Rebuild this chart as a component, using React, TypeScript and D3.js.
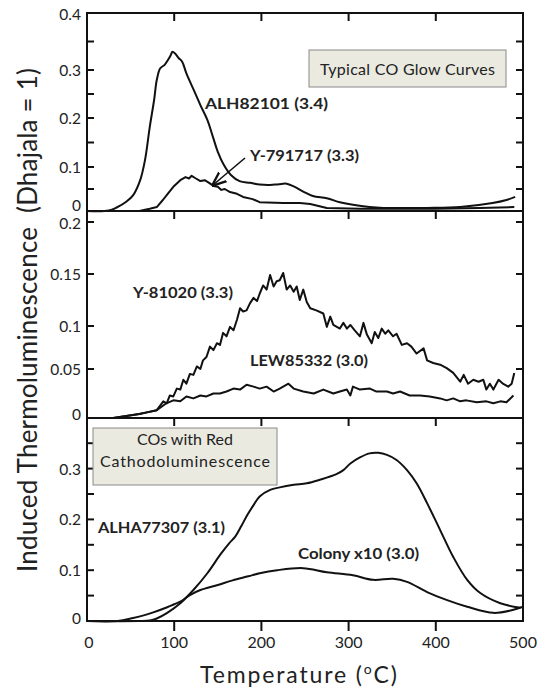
import React from "react";
import * as d3 from "d3";

type Pt = [number, number];

// ---------- data (temperature °C, induced TL relative to Dhajala) ----------
const X_TICK_VALUES = [0, 100, 200, 300, 400, 500];
const X_TICK_LABELS = ["0", "100", "200", "300", "400", "500"];

const TOP_LABEL_VALUES = [0, 0.1, 0.2, 0.3, 0.4];
const TOP_LABELS = ["0", "0.1", "0.2", "0.3", "0.4"];
const TOP_MINOR = [0.05, 0.1, 0.15, 0.2, 0.25, 0.3, 0.35];

const MID_LABEL_VALUES = [0, 0.05, 0.1, 0.15, 0.2];
const MID_LABELS = ["0", "0.05", "0.1", "0.15", "0.2"];
const MID_MINOR = [0.05, 0.1, 0.15, 0.2];

const BOT_LABEL_VALUES = [0, 0.1, 0.2, 0.3];
const BOT_LABELS = ["0", "0.1", "0.2", "0.3"];
const BOT_MINOR = [0.05, 0.1, 0.15, 0.2, 0.25, 0.3, 0.35];

const ALH82101: Pt[] = [
  [0, 0], [25, 0.001], [34, 0.008], [45, 0.021], [53, 0.036], [61, 0.07], [66.5, 0.114],
  [72, 0.182], [77, 0.238], [80, 0.279], [84, 0.303], [89, 0.309], [93, 0.318], [96, 0.326],
  [98, 0.332], [101, 0.329], [105, 0.321], [109, 0.315], [114, 0.293], [122, 0.26],
  [130, 0.227], [138, 0.196], [144.5, 0.161], [150, 0.131], [157, 0.104], [165, 0.082],
  [175, 0.068], [187, 0.064], [198, 0.06], [210, 0.059], [220, 0.061], [229, 0.062],
  [237, 0.056], [248, 0.044], [259, 0.034], [275, 0.029], [290, 0.02], [305, 0.014],
  [324, 0.009], [340, 0.007], [390, 0.007], [428, 0.009], [465, 0.018], [481, 0.025], [491, 0.032],
];

const Y791717: Pt[] = [
  [0, 0], [60, 0], [72, 0.005], [80, 0.009], [87, 0.025], [93, 0.04], [99, 0.055], [107, 0.07],
  [113, 0.077], [117, 0.074], [120, 0.08], [124, 0.075], [130, 0.068], [135, 0.07], [140, 0.064],
  [145, 0.057], [150, 0.055], [154, 0.048], [158, 0.05], [164, 0.043], [172, 0.039], [179, 0.032],
  [190, 0.027], [198, 0.02], [225, 0.018], [244, 0.018], [256, 0.016], [275, 0.007], [313, 0.005],
  [400, 0.005], [450, 0.007], [490, 0.009],
];

const Y81020: Pt[] = [
  [0, 0], [30, 0], [45, 0.002], [60, 0.004], [70, 0.006], [80, 0.008], [87.5, 0.017], [91.4, 0.015],
  [95, 0.023], [99, 0.022], [103, 0.03], [107, 0.029], [110.5, 0.039], [114, 0.035], [118, 0.045],
  [122, 0.044], [126, 0.053], [130, 0.05], [133, 0.06], [137, 0.064], [141, 0.076], [145, 0.072],
  [149, 0.08], [152.5, 0.078], [156, 0.092], [160, 0.088], [164, 0.099], [168, 0.095], [172, 0.106],
  [175.5, 0.117], [179, 0.114], [183, 0.115], [187, 0.122], [191, 0.127], [195, 0.124], [198, 0.131],
  [202, 0.139], [206, 0.135], [210, 0.149], [214, 0.138], [217.5, 0.143], [221, 0.144], [225, 0.151],
  [229, 0.135], [233, 0.139], [237, 0.133], [240.5, 0.138], [244, 0.125], [248, 0.135], [252, 0.123],
  [256, 0.117], [263, 0.115], [271, 0.112], [275, 0.099], [279, 0.109], [282.5, 0.101], [290, 0.097],
  [294, 0.103], [298, 0.097], [302, 0.101], [307, 0.095], [313, 0.088], [317, 0.103], [321, 0.09],
  [326.5, 0.08], [330, 0.093], [334, 0.086], [338, 0.097], [342, 0.091], [345.5, 0.095], [351, 0.088],
  [355, 0.091], [361, 0.078], [367, 0.08], [372, 0.076], [378, 0.068], [386, 0.074], [390, 0.06],
  [397, 0.057], [405, 0.055], [412.5, 0.051], [420, 0.046], [428, 0.037], [432, 0.044], [437, 0.035],
  [443, 0.039], [449, 0.037], [454.5, 0.039], [458, 0.029], [462, 0.035], [466, 0.029], [472, 0.039],
  [477, 0.035], [483, 0.032], [487, 0.035], [490, 0.046],
];

const LEW85332: Pt[] = [
  [0, 0], [30, 0], [45, 0.002], [60, 0.004], [70, 0.006], [80, 0.008], [91, 0.015], [99, 0.018],
  [107, 0.017], [114, 0.022], [122, 0.02], [130, 0.023], [137, 0.022], [145, 0.025], [152.5, 0.025],
  [160, 0.027], [168, 0.03], [175.5, 0.029], [183, 0.034], [191, 0.032], [198, 0.03], [206, 0.032],
  [214, 0.027], [221, 0.03], [231, 0.035], [237, 0.03], [248, 0.027], [260, 0.025], [271, 0.029],
  [282.5, 0.025], [290, 0.027], [298, 0.029], [302, 0.023], [305, 0.032], [313, 0.029], [324.5, 0.03],
  [332, 0.027], [344, 0.027], [351, 0.025], [359, 0.027], [370, 0.023], [382, 0.023], [393, 0.022],
  [405, 0.02], [412.5, 0.018], [420, 0.02], [428, 0.017], [435, 0.018], [447, 0.016], [458, 0.017],
  [466, 0.015], [474, 0.017], [481, 0.016], [489, 0.023],
];

const ALHA77307: Pt[] = [
  [0, 0], [60, 0], [72, 0.001], [80, 0.005], [92, 0.016], [107, 0.035], [122, 0.061], [138, 0.094],
  [153, 0.131], [163, 0.153], [170, 0.166], [177, 0.187], [184, 0.209], [191, 0.228], [198, 0.245],
  [210, 0.258], [221, 0.263], [237, 0.268], [252, 0.271], [267, 0.278], [286, 0.289], [294, 0.297],
  [302, 0.31], [313, 0.322], [324, 0.33], [334, 0.331], [344, 0.327], [355, 0.317], [367, 0.297],
  [378, 0.271], [390, 0.232], [405, 0.179], [420, 0.126], [436, 0.081], [451, 0.055], [474, 0.035],
  [497, 0.026],
];

const COLONY_X10: Pt[] = [
  [0, 0], [35, 0], [53, 0.006], [65, 0.011], [76, 0.017], [92, 0.027], [100, 0.033], [107, 0.038],
  [118, 0.051], [130, 0.061], [150, 0.071], [167, 0.08], [185, 0.088], [198, 0.094], [218, 0.1],
  [248, 0.104], [275, 0.096], [305, 0.09], [328, 0.081], [351, 0.083], [367, 0.077], [390, 0.057],
  [413, 0.041], [436, 0.028], [466, 0.016], [489, 0.022], [500, 0.028],
];

// ---------- layout ----------
const W = 537;
const H = 688;
const X0 = 87;
const X1 = 523;
const FONT = "Lato, 'Open Sans', sans-serif";
const INK = "#111";

const x = d3.scaleLinear().domain([0, 500]).range([X0, X1]);
const yTop = d3.scaleLinear().domain([0, 0.1, 0.2, 0.3, 0.4]).range([211, 167, 118, 70, 13]);
const yMid = d3.scaleLinear().domain([0, 0.05, 0.1, 0.15, 0.2, 0.2106]).range([418, 369, 326, 274, 222, 211]);
const yBot = d3.scaleLinear().domain([0, 0.4]).range([621, 417.8]);

type Panel = {
  y: d3.ScaleLinear<number, number>;
  top: number;
  bottom: number;
  minor: number[];
  labelValues: number[];
  labels: string[];
  zeroShift: number;
  topShift: number;
};

const PANELS: Panel[] = [
  { y: yTop, top: 13, bottom: 211, minor: TOP_MINOR, labelValues: TOP_LABEL_VALUES, labels: TOP_LABELS, zeroShift: -6, topShift: 1 },
  { y: yMid, top: 211, bottom: 418, minor: MID_MINOR, labelValues: MID_LABEL_VALUES, labels: MID_LABELS, zeroShift: -4, topShift: 1 },
  { y: yBot, top: 418, bottom: 621, minor: BOT_MINOR, labelValues: BOT_LABEL_VALUES, labels: BOT_LABELS, zeroShift: -3, topShift: 0 },
];

function pathFor(data: Pt[], y: d3.ScaleLinear<number, number>, smooth: boolean) {
  const gen = d3
    .line<Pt>()
    .x((d) => x(d[0]))
    .y((d) => y(d[1]))
    .curve(smooth ? d3.curveCatmullRom.alpha(0.5) : d3.curveLinear);
  return gen(data) ?? "";
}

const SERIES = [
  { data: ALH82101, y: yTop, smooth: true },
  { data: Y791717, y: yTop, smooth: false },
  { data: Y81020, y: yMid, smooth: false },
  { data: LEW85332, y: yMid, smooth: false },
  { data: ALHA77307, y: yBot, smooth: true },
  { data: COLONY_X10, y: yBot, smooth: true },
];

const innerX = X_TICK_VALUES.filter((v) => v > 0 && v < 500);

export default function App() {
  return (
    <svg
      width={W}
      height={H}
      viewBox={`0 0 ${W} ${H}`}
      style={{ position: "absolute", left: 0, top: 0, background: "#fff" }}
      fontFamily={FONT}
    >
      <rect x={0} y={0} width={W} height={H} fill="#fff" />
      <defs>
        <marker id="arrow" viewBox="0 0 10 10" refX="9" refY="5" markerWidth="9" markerHeight="9" orient="auto">
          <path d="M0,1 L10,5 L0,9" fill="none" stroke={INK} strokeWidth={1.6} />
        </marker>
      </defs>

      {/* panels: ticks and labels */}
      {PANELS.map((p, i) => (
        <g key={i}>
          {p.minor.map((v) => (
            <g key={v}>
              <line x1={X0} x2={X0 + 7} y1={p.y(v)} y2={p.y(v)} stroke={INK} strokeWidth={2} />
              <line x1={X1 - 7} x2={X1} y1={p.y(v)} y2={p.y(v)} stroke={INK} strokeWidth={2} />
            </g>
          ))}
          {innerX.map((v) => (
            <line key={v} x1={x(v)} x2={x(v)} y1={p.top} y2={p.top + 8} stroke={INK} strokeWidth={2} />
          ))}
          {p.labelValues.map((v, k) => (
            <text
              key={v}
              x={81}
              y={p.y(v) + (v === 0 ? p.zeroShift : k === p.labelValues.length - 1 ? p.topShift : 0)}
              textAnchor="end"
              dominantBaseline="central"
              fontSize={15.5}
              fill="#222"
            >
              {p.labels[k]}
            </text>
          ))}
        </g>
      ))}

      {/* bottom x axis ticks and labels */}
      {innerX.map((v) => (
        <line key={v} x1={x(v)} x2={x(v)} y1={621} y2={631} stroke={INK} strokeWidth={2} />
      ))}
      {X_TICK_VALUES.map((v, k) => (
        <text key={v} x={x(v) + (v === 0 ? 2 : 0)} y={641} textAnchor="middle" dominantBaseline="central" fontSize={16} fill="#222">
          {X_TICK_LABELS[k]}
        </text>
      ))}

      {/* curves */}
      {SERIES.map((s, i) => (
        <path key={i} d={pathFor(s.data, s.y, s.smooth)} fill="none" stroke={INK} strokeWidth={2} strokeLinejoin="round" />
      ))}

      {/* panel frames */}
      {PANELS.map((p, i) => (
        <rect key={i} x={X0} y={p.top} width={X1 - X0} height={p.bottom - p.top} fill="none" stroke={INK} strokeWidth={2} />
      ))}

      {/* boxes */}
      <rect x={309} y={50} width={197} height={37} fill="#eaeae1" stroke="#8a8a8a" strokeWidth={1} />
      <text x={407.5} y={68.5} textAnchor="middle" dominantBaseline="central" fontSize={16} fill="#222" textLength={175}>
        Typical CO Glow Curves
      </text>
      <rect x={93} y={428} width={184} height={57} fill="#eaeae1" stroke="#8a8a8a" strokeWidth={1} />
      <text x={185} y={438} textAnchor="middle" dominantBaseline="central" fontSize={16} fill="#222">
        COs with Red
      </text>
      <text x={185} y={460} textAnchor="middle" dominantBaseline="central" fontSize={16} fill="#222" textLength={170}>
        Cathodoluminescence
      </text>

      {/* curve labels */}
      <g fontWeight="bold" fontSize={15.5} fill="#222">
        <text x={205} y={103} dominantBaseline="central" textLength={123} lengthAdjust="spacingAndGlyphs">ALH82101 (3.4)</text>
        <text x={250} y={155} dominantBaseline="central" textLength={109} lengthAdjust="spacingAndGlyphs">Y-791717 (3.3)</text>
        <text x={133} y={292} dominantBaseline="central" textLength={100} lengthAdjust="spacingAndGlyphs">Y-81020 (3.3)</text>
        <text x={250} y={360} dominantBaseline="central" textLength={118} lengthAdjust="spacingAndGlyphs">LEW85332 (3.0)</text>
        <text x={98} y={527} dominantBaseline="central" textLength={127} lengthAdjust="spacingAndGlyphs">ALHA77307 (3.1)</text>
        <text x={298} y={553} dominantBaseline="central" textLength={121} lengthAdjust="spacingAndGlyphs">Colony x10 (3.0)</text>
      </g>

      {/* arrow */}
      <line x1={245} y1={158} x2={213} y2={185} stroke={INK} strokeWidth={1.6} markerEnd="url(#arrow)" />

      {/* axis titles */}
      <text x={298.5} y={683} textAnchor="middle" fontSize={23} fill="#222" textLength={197}>
        Temperature (<tspan fontSize={14} dy={-9}>o</tspan><tspan dy={9}>C)</tspan>
      </text>
      <text
        transform="translate(37,320) rotate(-90)"
        textAnchor="middle"
        fontSize={26}
        fill="#222"
        textLength={504}
        style={{ whiteSpace: "pre" }}
      >
        {"Induced Thermoluminescence  (Dhajala = 1)"}
      </text>
    </svg>
  );
}
